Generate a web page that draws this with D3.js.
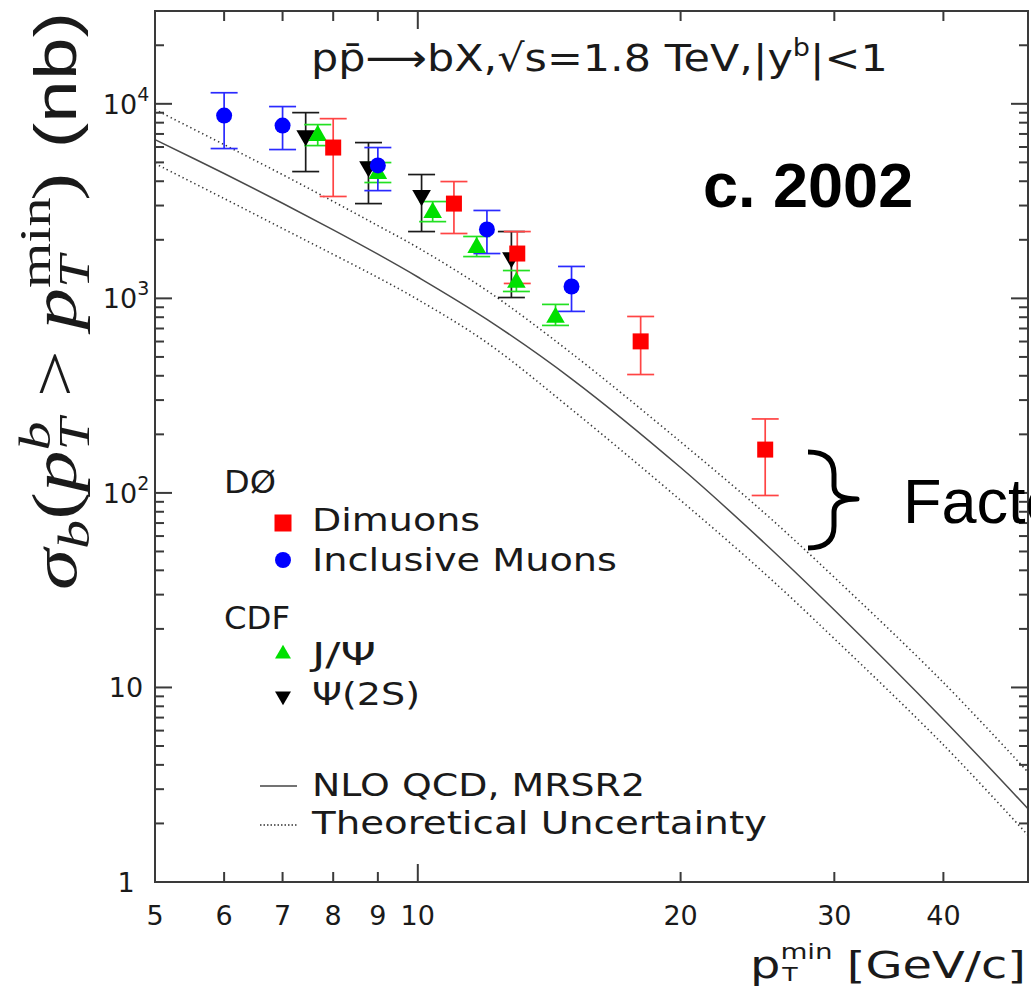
<!DOCTYPE html>
<html>
<head>
<meta charset="utf-8">
<script src="https://cdn.jsdelivr.net/npm/d3@7"></script>
<style>
  html, body { margin: 0; padding: 0; background: #fff; overflow: hidden; }
  svg { display: block; }
  text { white-space: pre; }
</style>
</head>
<body>
<svg id="chart" width="1031" height="991"></svg>
<script>
// b-quark production cross section above pT_min, Tevatron Run I
const ptGrid   = [5, 6, 7, 8, 9, 10, 12, 15, 20, 25, 30, 40, 50];
const nloQcd   = [6550, 4385, 3083, 2249, 1687, 1288, 780, 386, 135, 54.8, 25.0, 6.85, 2.38];
const nloUpper = [9340, 6170, 4325, 3148, 2366, 1824, 1096, 522, 183, 78.2, 36.8, 10.6, 3.67];
const nloLower = [4930, 3260, 2286, 1683, 1280, 986, 592, 269, 91.6, 38.3, 17.8, 5.07, 1.74];

// DØ dimuons
const dimuPt  = [8, 11, 13, 18, 25];
const dimuVal = [5960, 3070, 1700, 601, 167];
const dimuHi  = [8390, 3985, 2205, 807, 240];
const dimuLo  = [3340, 2155, 1193, 406, 97];

// DØ inclusive muons
const incPt  = [6, 7, 9, 12, 15];
const incVal = [8700, 7730, 4820, 2260, 1151];
const incHi  = [11400, 9680, 5960, 2830, 1459];
const incLo  = [5890, 5820, 3580, 1700, 857];

// CDF J/psi
const jpsiPt  = [7.68, 9.0, 10.4, 11.68, 12.97, 14.38];
const jpsiVal = [6870, 4380, 2760, 1825, 1207, 798];
const jpsiHi  = [7820, 4990, 3145, 2080, 1390, 931];
const jpsiLo  = [6100, 3940, 2480, 1640, 1085, 726];

// CDF psi(2S)
const psiPt  = [7.44, 8.78, 10.1, 12.8];
const psiVal = [6870, 4760, 3380, 1622];
const psiHi  = [9010, 6320, 4330, 2205];
const psiLo  = [4485, 3070, 2205, 1010];

const xTickLabels = [5, 6, 7, 8, 9, 10, 20, 30, 40];
const yMajor = [1, 10, 100, 1000, 10000];

const svg = d3.select("#chart");
const L = 155, R = 1028, T = 11, B = 882;
const x = d3.scaleLog().domain([5, 50]).range([L, R]);
const y = d3.scaleLog().domain([1, 3e4]).range([B, T]);

const axisColor = "#3a3a3a";
const sans = "'DejaVu Sans', sans-serif";
const arial = "'Liberation Sans', Arial, sans-serif";
const serif = "'Liberation Serif', 'Times New Roman', serif";

// stretch a start-anchored text horizontally to a given width
function fitWidth(sel, x0, target) {
  const w = sel.node().getBBox().width;
  const k = target / w;
  sel.attr("transform", `translate(${x0},0) scale(${k},1) translate(${-x0},0)`);
}

// ---------- theory curves ----------
const line = d3.line().x(d => x(d[0])).y(d => y(d[1])).curve(d3.curveCatmullRom.alpha(0.5));
const curves = svg.append("g").attr("fill", "none");
curves.append("path").attr("d", line(ptGrid.map((p, i) => [p, nloQcd[i]])))
  .attr("stroke", "#4a4a4a").attr("stroke-width", 1.5);
[nloUpper, nloLower].forEach(arr => {
  curves.append("path").attr("d", line(ptGrid.map((p, i) => [p, arr[i]])))
    .attr("stroke", "#3a3a3a").attr("stroke-width", 1.6).attr("stroke-dasharray", "1.4,3");
});

// ---------- frame and ticks ----------
const frame = svg.append("g").attr("stroke", axisColor).attr("stroke-width", 2);
frame.append("rect").attr("x", L).attr("y", T).attr("width", R - L).attr("height", B - T).attr("fill", "none");

const yMinor = [];
for (let d = 1; d <= 10000; d *= 10) for (let m = 2; m <= 9; m++) if (d * m < 3e4) yMinor.push(d * m);
yMajor.forEach(v => {
  frame.append("line").attr("x1", L).attr("x2", L + 17).attr("y1", y(v)).attr("y2", y(v));
  frame.append("line").attr("x1", R).attr("x2", R - 17).attr("y1", y(v)).attr("y2", y(v));
});
yMinor.forEach(v => {
  frame.append("line").attr("x1", L).attr("x2", L + 9).attr("y1", y(v)).attr("y2", y(v));
  frame.append("line").attr("x1", R).attr("x2", R - 9).attr("y1", y(v)).attr("y2", y(v));
});
const xMinor = [6, 7, 8, 9, 20, 30, 40];
xMinor.forEach(v => {
  frame.append("line").attr("x1", x(v)).attr("x2", x(v)).attr("y1", B).attr("y2", B - 10);
  frame.append("line").attr("x1", x(v)).attr("x2", x(v)).attr("y1", T).attr("y2", T + 10);
});
[10].forEach(v => {
  frame.append("line").attr("x1", x(v)).attr("x2", x(v)).attr("y1", B).attr("y2", B - 18);
  frame.append("line").attr("x1", x(v)).attr("x2", x(v)).attr("y1", T).attr("y2", T + 18);
});

// tick labels
const tl = svg.append("g").attr("font-family", sans).attr("font-size", 27).attr("fill", "#1a1a1a");
xTickLabels.forEach(v => {
  tl.append("text").attr("x", x(v)).attr("y", 925).attr("text-anchor", "middle").text(v);
});
yMajor.forEach(v => {
  const e = Math.round(Math.log10(v));
  const t = tl.append("text").attr("x", 126).attr("y", y(v) + 10).attr("text-anchor", "middle");
  if (e === 0) t.text("1");
  else if (e === 1) t.text("10");
  else {
    t.append("tspan").text("10");
    t.append("tspan").attr("font-size", 19).attr("dy", -13).text(e);
  }
});

// ---------- data points ----------
const capHalf = 13.5;
function errBars(pts, vals, hi, lo, color) {
  const g = svg.append("g").attr("stroke", color).attr("stroke-width", 1.7);
  pts.forEach((p, i) => {
    const cx = x(p);
    g.append("line").attr("x1", cx).attr("x2", cx).attr("y1", y(hi[i])).attr("y2", y(lo[i]));
    g.append("line").attr("x1", cx - capHalf).attr("x2", cx + capHalf).attr("y1", y(hi[i])).attr("y2", y(hi[i]));
    g.append("line").attr("x1", cx - capHalf).attr("x2", cx + capHalf).attr("y1", y(lo[i])).attr("y2", y(lo[i]));
  });
}
errBars(psiPt, psiVal, psiHi, psiLo, "#1a1a1a");
errBars(jpsiPt, jpsiVal, jpsiHi, jpsiLo, "#22e022");
errBars(incPt, incVal, incHi, incLo, "#2a2aff");
errBars(dimuPt, dimuVal, dimuHi, dimuLo, "#ff4444");

const sym = {
  square: d3.symbol().type(d3.symbolSquare).size(256),
  circle: d3.symbol().type(d3.symbolCircle).size(200),
  tri: d3.symbol().type(d3.symbolTriangle).size(150)
};
function markers(pts, vals, shape, color, rot) {
  const g = svg.append("g").attr("fill", color);
  pts.forEach((p, i) => {
    g.append("path").attr("d", shape())
      .attr("transform", `translate(${x(p)},${y(vals[i])})${rot ? " rotate(180)" : ""}`);
  });
}
markers(psiPt, psiVal, sym.tri, "#000", true);
markers(jpsiPt, jpsiVal, sym.tri, "#00e000", false);
markers(incPt, incVal, sym.circle, "#0000ff", false);
markers(dimuPt, dimuVal, sym.square, "#ff0000", false);

// ---------- legend ----------
const lg = svg.append("g").attr("font-family", sans).attr("font-size", 32).attr("fill", "#1a1a1a");
function legText(txt, x0, base, w) {
  const t = lg.append("text").attr("x", x0).attr("y", base).text(txt);
  t.attr("textLength", w).attr("lengthAdjust", "spacingAndGlyphs");
  return t;
}
legText("DØ", 224, 493, 52);
legText("Dimuons", 312, 531, 168);
legText("Inclusive Muons", 312, 571, 305);
legText("CDF", 224, 629, 66);
legText("J/Ψ", 312, 665, 64);
legText("Ψ(2S)", 312, 705, 108);
legText("NLO QCD, MRSR2", 312, 796, 333);
legText("Theoretical Uncertainty", 312, 834, 455);

svg.append("path").attr("d", sym.square.size(289)()).attr("transform", "translate(283,523)").attr("fill", "#ff0000");
svg.append("path").attr("d", sym.circle.size(200)()).attr("transform", "translate(283,560)").attr("fill", "#0000ff");
svg.append("path").attr("d", sym.tri.size(110)()).attr("transform", "translate(283,654)").attr("fill", "#00e000");
svg.append("path").attr("d", sym.tri.size(110)()).attr("transform", "translate(283,696) rotate(180)").attr("fill", "#000");
svg.append("line").attr("x1", 260).attr("x2", 297).attr("y1", 786).attr("y2", 786).attr("stroke", "#444").attr("stroke-width", 1.6);
svg.append("line").attr("x1", 260).attr("x2", 297).attr("y1", 825).attr("y2", 825).attr("stroke", "#333").attr("stroke-width", 1.6).attr("stroke-dasharray", "1.5,2");

// ---------- title ----------
const title = svg.append("text").attr("x", 311).attr("y", 71).attr("font-family", sans).attr("font-size", 38).attr("fill", "#1a1a1a");
title.append("tspan").text("pp\u0304\u27F6bX,\u221As=1.8 TeV,|y");
title.append("tspan").attr("font-size", 24).attr("dy", -15).text("b");
title.append("tspan").attr("dy", 15).text("|<1");
fitWidth(title, 311, 577);

// ---------- axis titles ----------
const xl = svg.append("text").attr("x", 750).attr("y", 978).attr("font-family", sans).attr("font-size", 38).attr("fill", "#1a1a1a");
xl.append("tspan").text("p");
xl.append("tspan").attr("font-size", 22).attr("dy", -19).text("min");
xl.append("tspan").attr("font-size", 20).attr("dx", -40).attr("dy", 22).text("T");
xl.append("tspan").attr("dx", 27).attr("dy", -3).text(" [GeV/c]");
fitWidth(xl, 750, 276);

const F = 64;
const yl = svg.append("g");
const ylt = yl.append("text").attr("x", 0).attr("y", 0).attr("text-anchor", "middle")
  .attr("font-family", serif).attr("font-size", F).attr("fill", "#1a1a1a");
ylt.append("tspan").attr("font-style", "italic").text("σ");
ylt.append("tspan").attr("font-style", "italic").attr("font-size", 0.7 * F).attr("dy", 0.2 * F).text("b");
ylt.append("tspan").attr("dy", -0.2 * F).text("(");
ylt.append("tspan").attr("font-style", "italic").text("p");
ylt.append("tspan").attr("font-style", "italic").attr("font-size", 0.7 * F).attr("dy", -0.4 * F).text("b");
ylt.append("tspan").attr("font-style", "italic").attr("font-size", 0.7 * F).attr("dx", -0.35 * F).attr("dy", 0.6 * F).text("T");
ylt.append("tspan").attr("dy", -0.2 * F).text(" > ");
ylt.append("tspan").attr("font-style", "italic").text("p");
ylt.append("tspan").attr("font-size", 0.7 * F).attr("dy", -0.4 * F).text("min");
ylt.append("tspan").attr("font-style", "italic").attr("font-size", 0.7 * F).attr("dx", -1.09 * F).attr("dy", 0.6 * F).text("T");
ylt.append("tspan").attr("dx", 0.66 * F).attr("dy", -0.2 * F).text(")");
ylt.append("tspan").attr("font-family", arial).attr("font-size", 0.92 * F).attr("dx", 0.3 * F).text("(nb)");
{
  const w = ylt.node().getBBox().width;
  const k = 578 / w;
  yl.attr("transform", `translate(76,301) rotate(-90) scale(${k},1)`);
}

// ---------- annotations ----------
svg.append("text").attr("x", 703).attr("y", 207).attr("font-family", arial)
  .attr("font-weight", "bold").attr("font-size", 63).attr("fill", "#000").text("c. 2002");
svg.append("path")
  .attr("d", "M808,452 Q834,452 834,474 L834,486 Q834,499 857,499 Q834,499 834,512 L834,526 Q834,548 808,548")
  .attr("fill", "none").attr("stroke", "#000").attr("stroke-width", 5).attr("stroke-linejoin", "round");
svg.append("text").attr("x", 903).attr("y", 523).attr("font-family", arial)
  .attr("font-size", 63).attr("fill", "#000").text("Factor");
</script>
</body>
</html>
